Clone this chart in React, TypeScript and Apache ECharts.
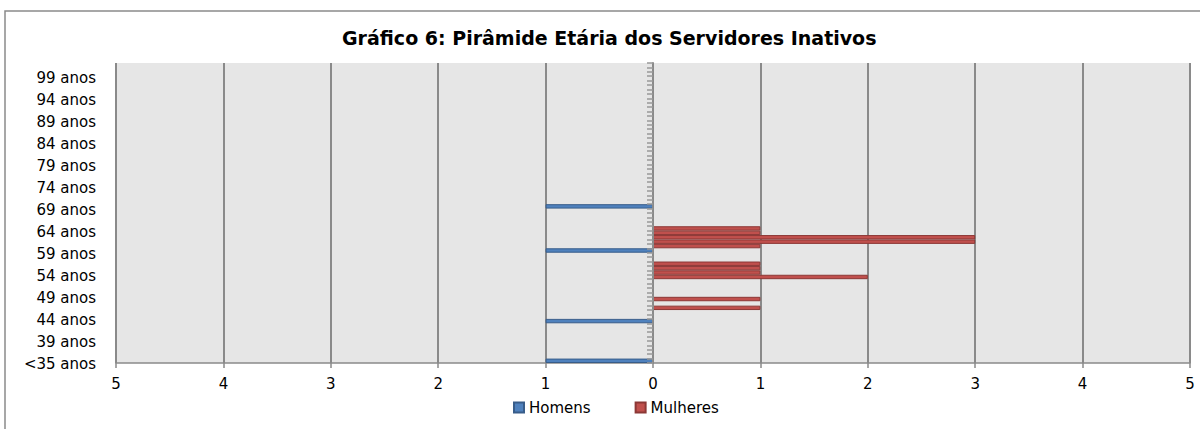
import React, { useEffect, useRef } from "react";
import * as echarts from "echarts";

const chartTitle = "Gráfico 6: Pirâmide Etária dos Servidores Inativos";
const seriesNames = ["Homens", "Mulheres"];

const ageCategories = [
  "<35 anos", "35 anos", "36 anos", "37 anos", "38 anos", "39 anos", "40 anos", "41 anos", "42 anos", "43 anos",
  "44 anos", "45 anos", "46 anos", "47 anos", "48 anos", "49 anos", "50 anos", "51 anos", "52 anos", "53 anos",
  "54 anos", "55 anos", "56 anos", "57 anos", "58 anos", "59 anos", "60 anos", "61 anos", "62 anos", "63 anos",
  "64 anos", "65 anos", "66 anos", "67 anos", "68 anos", "69 anos", "70 anos", "71 anos", "72 anos", "73 anos",
  "74 anos", "75 anos", "76 anos", "77 anos", "78 anos", "79 anos", "80 anos", "81 anos", "82 anos", "83 anos",
  "84 anos", "85 anos", "86 anos", "87 anos", "88 anos", "89 anos", "90 anos", "91 anos", "92 anos", "93 anos",
  "94 anos", "95 anos", "96 anos", "97 anos", "98 anos", "99 anos", "100 anos", "101 anos",
];

// counts per age (same order as ageCategories)
const homens = [
  1, 0, 0, 0, 0, 0, 0, 0, 0, 1,
  0, 0, 0, 0, 0, 0, 0, 0, 0, 0,
  0, 0, 0, 0, 0, 1, 0, 0, 0, 0,
  0, 0, 0, 0, 0, 1, 0, 0, 0, 0,
  0, 0, 0, 0, 0, 0, 0, 0, 0, 0,
  0, 0, 0, 0, 0, 0, 0, 0, 0, 0,
  0, 0, 0, 0, 0, 0, 0, 0,
];
const mulheres = [
  0, 0, 0, 0, 0, 0, 0, 0, 0, 0,
  0, 0, 1, 0, 1, 0, 0, 0, 0, 2,
  1, 1, 1, 0, 0, 0, 1, 3, 3, 1,
  1, 0, 0, 0, 0, 0, 0, 0, 0, 0,
  0, 0, 0, 0, 0, 0, 0, 0, 0, 0,
  0, 0, 0, 0, 0, 0, 0, 0, 0, 0,
  0, 0, 0, 0, 0, 0, 0, 0,
];

const xMin = -5;
const xMax = 5;

const FONT = "DejaVu Sans";
const GRID_COLOR = "#8a8a8a";

export default function App() {
  const ref = useRef<HTMLDivElement>(null);
  useEffect(() => {
    const chart = echarts.init(ref.current!, null, { renderer: "svg" });
    chart.setOption({
      animation: false,
      backgroundColor: "#ffffff",
      title: {
        text: chartTitle,
        left: 337,
        top: 23,
        textStyle: { fontFamily: "DejaVu Sans", fontWeight: "bold", fontSize: 19, color: "#000" },
      },
      graphic: [
        {
          type: "rect",
          silent: true,
          shape: { x: 5, y: 11, width: 1210, height: 440 },
          style: { fill: "none", stroke: "#8a8a8a", lineWidth: 1.5 },
        },
      ],
      legend: {
        data: seriesNames,
        left: 508,
        top: 395,
        icon: "rect",
        itemWidth: 10,
        itemHeight: 10,
        itemGap: 44,
        textStyle: { fontFamily: FONT, fontSize: 15, color: "#000" },
      },
      grid: [
        {
          left: 116,
          right: 10,
          top: 63,
          bottom: 66,
          show: true,
          backgroundColor: "#e6e6e6",
          borderWidth: 0,
        },
        {
          left: 116,
          right: 10,
          top: 66.5,
          bottom: 62.5,
          show: false,
        },
      ],
      xAxis: [
        {
          type: "value",
          gridIndex: 0,
          min: xMin,
          max: xMax,
          interval: 1,
          axisLine: { show: true, onZero: false, lineStyle: { color: GRID_COLOR, width: 1.5 } },
          axisTick: { show: true, length: 5, lineStyle: { color: GRID_COLOR, width: 1.5 } },
          axisLabel: {
            formatter: (v: number) => String(Math.abs(v)),
            color: "#000",
            fontSize: 15,
            fontFamily: FONT,
            margin: 13,
          },
          splitLine: { show: true, lineStyle: { color: GRID_COLOR, width: 2 } },
        },
        {
          type: "value",
          gridIndex: 1,
          min: xMin,
          max: xMax,
          interval: 1,
          show: false,
        },
      ],
      yAxis: [
        {
          type: "category",
          gridIndex: 0,
          data: ageCategories,
          position: "right",
          z: 5,
          axisLine: { show: true, onZero: true, lineStyle: { color: GRID_COLOR, width: 2 } },
          axisTick: { show: true, inside: true, interval: 0, length: 6, lineStyle: { color: "#999", width: 1.5 } },
          axisLabel: { show: false },
          splitLine: { show: false },
        },
        {
          type: "category",
          gridIndex: 1,
          data: ageCategories,
          position: "left",
          axisLine: { show: false, onZero: false },
          axisTick: { show: false },
          axisLabel: {
            interval: 4,
            color: "#000",
            fontSize: 15,
            fontFamily: FONT,
            margin: 20,
          },
          splitLine: { show: false },
        },
      ],
      series: [
        {
          name: seriesNames[0],
          type: "bar",
          stack: "pop",
          xAxisIndex: 0,
          yAxisIndex: 0,
          barCategoryGap: "0%",
          data: homens.map((v) => (v ? -v : null)),
          itemStyle: { color: "#4F81BD", borderColor: "#385D8A", borderWidth: 1 },
        },
        {
          name: seriesNames[1],
          type: "bar",
          stack: "pop",
          xAxisIndex: 0,
          yAxisIndex: 0,
          barCategoryGap: "0%",
          data: mulheres.map((v) => (v ? v : null)),
          itemStyle: { color: "#C0504D", borderColor: "#8C3836", borderWidth: 1 },
        },
      ],
    });
    return () => chart.dispose();
  }, []);
  return (
    <div
      ref={ref}
      style={{ position: "fixed", left: 0, top: 0, width: 1200, height: 429, background: "#fff" }}
    />
  );
}
